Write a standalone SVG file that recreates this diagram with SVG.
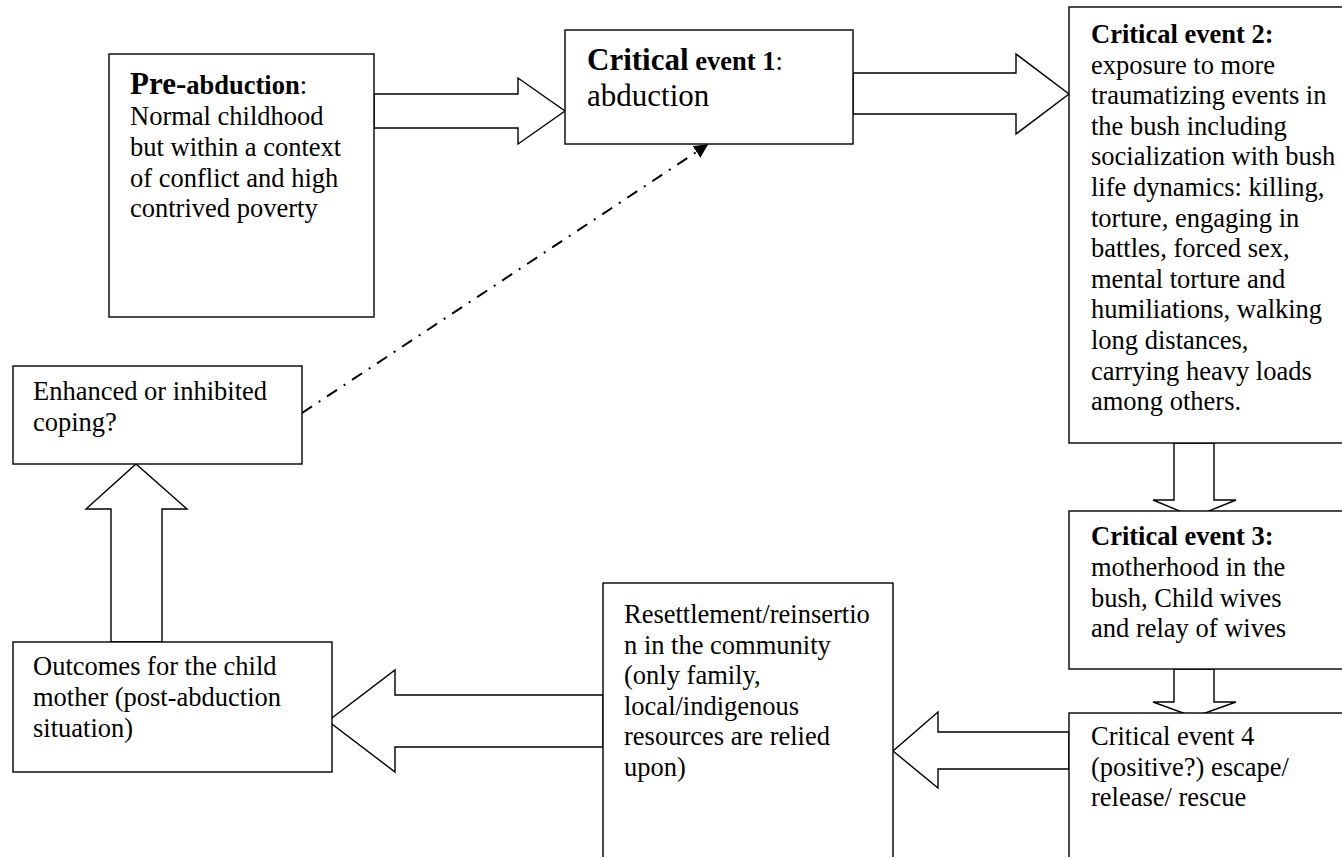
<svg xmlns="http://www.w3.org/2000/svg" width="1342" height="857" viewBox="0 0 1342 857">
<style>
.box{fill:#fff;stroke:#000;stroke-width:1.4}
.blk{fill:#fff;stroke:#000;stroke-width:1.4;stroke-linejoin:miter}
.t{font-family:"Liberation Serif","Times New Roman",serif;font-size:26.5px;fill:#000}
.b{font-weight:bold}
.big{font-size:31px}
.dd{fill:none;stroke:#000;stroke-width:2;stroke-dasharray:12 8 2 8}
</style>
<defs>
<marker id="ah" viewBox="0 0 10 10" refX="9" refY="5" markerWidth="7" markerHeight="7" markerUnits="strokeWidth" orient="auto">
<path d="M0,0 L10,5 L0,10 z" fill="#000"/>
</marker>
</defs>
<rect width="1342" height="857" fill="#fff"/>
<g id="connectors">
<polygon class="blk" points="374,94 518,94 518,78 565,111 518,144 518,128 374,128"/>
<polygon class="blk" points="853,73 1016,73 1016,54 1069,94 1016,134 1016,114 853,114"/>
<polygon class="blk" points="1174,443 1174,500 1153,500 1194,517 1236,500 1214,500 1214,443"/>
<polygon class="blk" points="1174,669 1174,702 1153,702 1194,717 1236,702 1214,702 1214,669"/>
<polygon class="blk" points="1069,732 938,732 938,712 893,751 938,788 938,769 1069,769"/>
<polygon class="blk" points="603,695 395,695 395,670 328,721 395,772 395,747 603,747"/>
<polygon class="blk" points="111,642 111,509 86,509 136,464 187,509 162,509 162,642"/>
<line class="dd" x1="302" y1="413" x2="707" y2="145" marker-end="url(#ah)"/>
</g>
<g id="pre">
<rect class="box" x="109" y="54" width="265" height="263"/>
<text class="t" x="130" y="94"><tspan class="b big">Pre-</tspan><tspan class="b">abduction</tspan>:</text>
<text class="t" x="130" y="125">Normal childhood</text>
<text class="t" x="130" y="156">but within a context</text>
<text class="t" x="130" y="187">of conflict and high</text>
<text class="t" x="130" y="217">contrived poverty</text>
</g>
<g id="crit1">
<rect class="box" x="565" y="30" width="288" height="114"/>
<text class="t" x="587" y="70"><tspan class="b big">Critical</tspan><tspan class="b"> event 1</tspan>:</text>
<text class="t big" x="587" y="106">abduction</text>
</g>
<g id="crit2">
<rect class="box" x="1069" y="7" width="290" height="436"/>
<text class="t b" x="1091" y="43">Critical event 2:</text>
<text class="t" x="1091" y="73.6">exposure to more</text>
<text class="t" x="1091" y="104.2">traumatizing events in</text>
<text class="t" x="1091" y="134.8">the bush including</text>
<text class="t" x="1091" y="165.4">socialization with bush</text>
<text class="t" x="1091" y="196">life dynamics: killing,</text>
<text class="t" x="1091" y="226.6">torture, engaging in</text>
<text class="t" x="1091" y="257.2">battles, forced sex,</text>
<text class="t" x="1091" y="287.8">mental torture and</text>
<text class="t" x="1091" y="318.4">humiliations, walking</text>
<text class="t" x="1091" y="349">long distances,</text>
<text class="t" x="1091" y="379.6">carrying heavy loads</text>
<text class="t" x="1091" y="410.2">among others.</text>
</g>
<g id="crit3">
<rect class="box" x="1069" y="511" width="290" height="158"/>
<text class="t b" x="1091" y="545">Critical event 3:</text>
<text class="t" x="1091" y="576">motherhood in the</text>
<text class="t" x="1091" y="607">bush, Child wives</text>
<text class="t" x="1091" y="637">and relay of wives</text>
</g>
<g id="crit4">
<rect class="box" x="1069" y="713" width="290" height="160"/>
<text class="t" x="1091" y="745">Critical event 4</text>
<text class="t" x="1091" y="776">(positive?) escape/</text>
<text class="t" x="1091" y="806">release/ rescue</text>
</g>
<g id="resettlement">
<rect class="box" x="603" y="583" width="290" height="290"/>
<text class="t" x="624" y="623">Resettlement/reinsertio</text>
<text class="t" x="624" y="654">n in the community</text>
<text class="t" x="624" y="684">(only family,</text>
<text class="t" x="624" y="715">local/indigenous</text>
<text class="t" x="624" y="745">resources are relied</text>
<text class="t" x="624" y="776">upon)</text>
</g>
<g id="coping">
<rect class="box" x="13" y="366" width="289" height="98"/>
<text class="t" x="33" y="400">Enhanced or inhibited</text>
<text class="t" x="33" y="431">coping?</text>
</g>
<g id="outcomes">
<rect class="box" x="13" y="642" width="319" height="130"/>
<text class="t" x="33" y="675">Outcomes for the child</text>
<text class="t" x="33" y="706">mother (post-abduction</text>
<text class="t" x="33" y="737">situation)</text>
</g>
</svg>
